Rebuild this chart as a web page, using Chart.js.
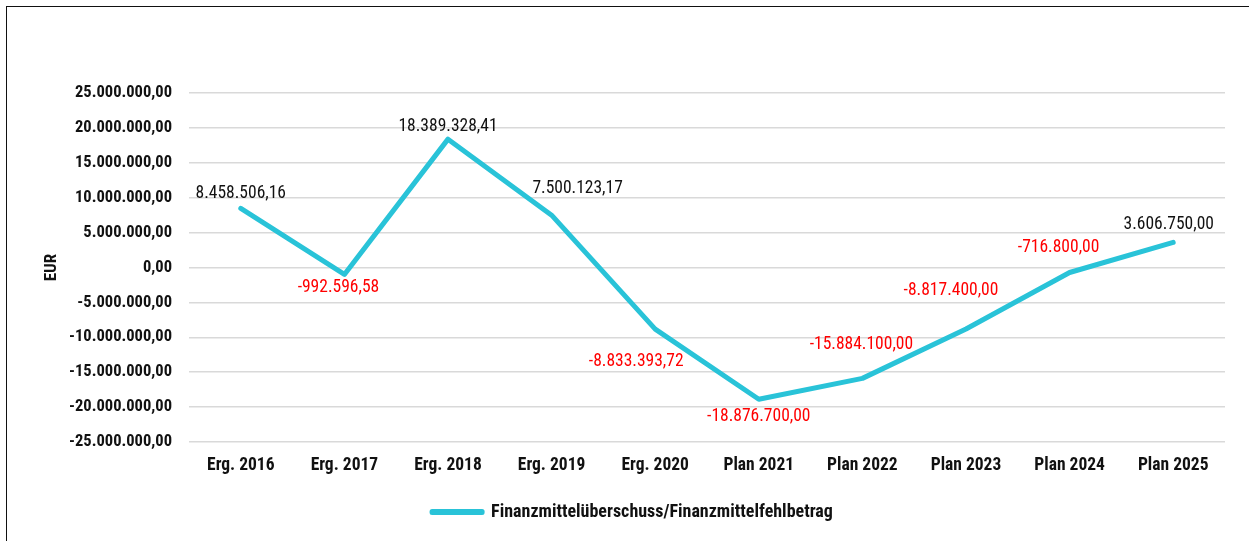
<!DOCTYPE html>
<html lang="de">
<head>
<meta charset="utf-8">
<script src="https://cdn.jsdelivr.net/npm/chart.js@4.4.1/dist/chart.umd.min.js"></script>
<style>
  html, body { margin: 0; padding: 0; background: #fff; overflow: hidden; }
  #wrap { position: relative; width: 1249px; height: 541px; }
  #frame { position: absolute; left: 6px; top: 6px; width: 1260px; height: 560px;
           border: 1.5px solid #111; box-sizing: border-box; }
  canvas { position: absolute; left: 0; top: 0; }
</style>
</head>
<body>
<div id="wrap">
  <div id="frame"></div>
  <canvas id="chart" width="1249" height="541"></canvas>
</div>
<script>
// Jahresergebnisse / Planwerte
const categories = ['Erg. 2016', 'Erg. 2017', 'Erg. 2018', 'Erg. 2019', 'Erg. 2020',
                    'Plan 2021', 'Plan 2022', 'Plan 2023', 'Plan 2024', 'Plan 2025'];
const seriesName = 'Finanzmittelüberschuss/Finanzmittelfehlbetrag';
const values = [8458506.16, -992596.58, 18389328.41, 7500123.17, -8833393.72,
                -18876700.00, -15884100.00, -8817400.00, -716800.00, 3606750.00];
const yTicks = [25000000, 20000000, 15000000, 10000000, 5000000, 0,
                -5000000, -10000000, -15000000, -20000000, -25000000];

const FONT = '"Roboto Condensed", Roboto, "Liberation Sans", sans-serif';
const LINE_COLOR = '#29c3d8';

const fmt = v => v.toLocaleString('de-DE', { minimumFractionDigits: 2, maximumFractionDigits: 2 });

// Wertbeschriftungen: Versatz je Punkt relativ zum Punkt (px)
const labelOffsets = [[0, -15], [-6, 13.5], [0, -13], [26, -27], [-19, 32.5],
                      [0, 17.5], [-1, -34], [-15, -38], [-11, -25], [-4.5, -17.5]];

const valueLabels = {
  id: 'valueLabels',
  afterDatasetsDraw(chart) {
    const ctx = chart.ctx;
    const meta = chart.getDatasetMeta(0);
    ctx.save();
    ctx.font = 'condensed 17.5px ' + FONT;
    ctx.textAlign = 'center';
    ctx.textBaseline = 'middle';
    meta.data.forEach((pt, i) => {
      const v = chart.data.datasets[0].data[i];
      const [dx, dy] = labelOffsets[i];
      ctx.fillStyle = v < 0 ? '#ff0000' : '#111111';
      ctx.fillText(fmt(v), pt.x + dx, pt.y + dy);
    });
    ctx.restore();
  }
};

const boldFont = size => ({ family: FONT, size, weight: 'bold condensed' });

new Chart(document.getElementById('chart'), {
  type: 'line',
  data: {
    labels: categories,
    datasets: [{
      label: seriesName,
      data: values,
      borderColor: LINE_COLOR,
      backgroundColor: LINE_COLOR,
      borderWidth: 5,
      borderCapStyle: 'round',
      borderJoinStyle: 'round',
      pointRadius: 0,
      pointHoverRadius: 0,
      tension: 0,
      fill: false
    }]
  },
  options: {
    responsive: false,
    animation: false,
    devicePixelRatio: 1,
    layout: { padding: { left: 40, right: 24, top: 93, bottom: 10 } },
    plugins: {
      tooltip: { enabled: false },
      legend: {
        position: 'bottom',
        labels: {
          boxWidth: 50,
          boxHeight: 1,
          padding: 10,
          color: '#111',
          font: boldFont(18)
        }
      }
    },
    scales: {
      x: {
        offset: true,
        grid: { display: false, drawTicks: false },
        border: { display: false },
        ticks: { color: '#111', padding: 13, maxRotation: 0, font: boldFont(17.5) },
        afterFit(scale) { scale.height = 51; }
      },
      y: {
        min: -25000000,
        max: 25000000,
        afterBuildTicks(scale) { scale.ticks = yTicks.map(v => ({ value: v })); },
        grid: { color: '#d9d9d9', lineWidth: 1.5, drawTicks: false },
        border: { display: false },
        ticks: { color: '#111', padding: 17, font: boldFont(16.5), callback: v => fmt(v) },
        title: { display: true, text: 'EUR', color: '#111', padding: { top: 2, bottom: 0 },
                 font: boldFont(17) },
        afterFit(scale) { scale.width = 149; }
      }
    }
  },
  plugins: [valueLabels]
});
</script>
</body>
</html>
